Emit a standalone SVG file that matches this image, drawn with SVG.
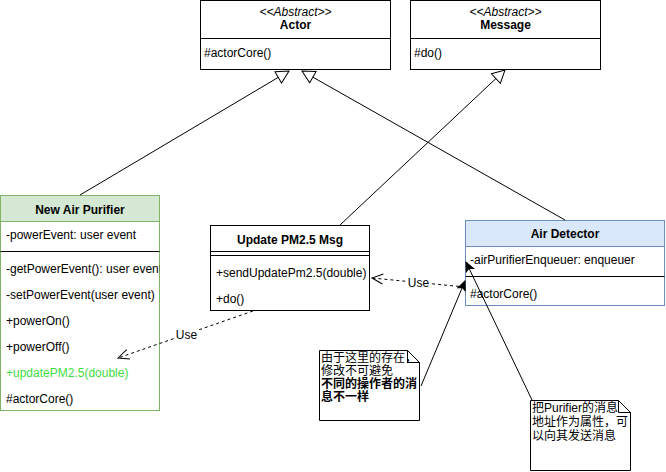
<svg xmlns="http://www.w3.org/2000/svg" width="666" height="472" viewBox="0 0 666 472">
<style>
.box{fill:#fff;stroke:#000}
.t{font-family:"Liberation Sans",Arial,sans-serif;font-size:12px;fill:#000}
.b{font-weight:bold}
.i{font-style:italic}
.c{font-family:"Liberation Sans","Noto Sans CJK SC",sans-serif;font-size:12px;fill:#000}
.edge{stroke:#000;fill:none}
.dash{stroke-dasharray:3 3}
.lbl{fill:#fff}
</style>
<defs>
<marker id="tri" markerUnits="userSpaceOnUse" markerWidth="16" markerHeight="16" viewBox="0 0 16 16" refX="14" refY="8" orient="auto"><path d="M1.5,1.5 L14,8 L1.5,14.5 Z" fill="#fff" stroke="#000"/></marker>
<marker id="open" markerUnits="userSpaceOnUse" markerWidth="14" markerHeight="14" viewBox="0 0 14 14" refX="12" refY="7" orient="auto"><path d="M1,2 L12,7 L1,12" fill="none" stroke="#000"/></marker>
<marker id="cls" markerUnits="userSpaceOnUse" markerWidth="12" markerHeight="10" viewBox="0 0 12 10" refX="10" refY="5" orient="auto"><path d="M1,1 L10,5 L1,9 L3,5 Z" fill="#000" stroke="#000"/></marker>
<clipPath id="clipNAP"><rect x="0" y="195" width="159.5" height="216"/></clipPath>
</defs>

<g id="actor">
<rect class="box" x="200.5" y="0.5" width="190" height="69"/>
<line class="edge" x1="200.5" y1="38.5" x2="390.5" y2="38.5"/>
<text class="t i" x="295.5" y="16" text-anchor="middle">&lt;&lt;Abstract&gt;&gt;</text>
<text class="t b" x="295.5" y="29" text-anchor="middle">Actor</text>
<text class="t" x="204" y="57">#actorCore()</text>
</g>

<g id="message">
<rect class="box" x="410.5" y="0.5" width="190" height="69"/>
<line class="edge" x1="410.5" y1="38.5" x2="600.5" y2="38.5"/>
<text class="t i" x="505.5" y="16" text-anchor="middle">&lt;&lt;Abstract&gt;&gt;</text>
<text class="t b" x="505.5" y="29" text-anchor="middle">Message</text>
<text class="t" x="414" y="57">#do()</text>
</g>

<g id="new-air-purifier">
<rect x="0.5" y="195.5" width="159" height="215" fill="#fff" stroke="#82b366"/>
<rect x="0.5" y="195.5" width="159" height="26" fill="#d5e8d4" stroke="#82b366"/>
<text class="t b" x="80" y="214" text-anchor="middle">New Air Purifier</text>
<text class="t" x="6" y="239">-powerEvent: user event</text>
<line class="edge" x1="0.5" y1="251.5" x2="159.5" y2="251.5"/>
<g clip-path="url(#clipNAP)">
<text class="t" x="6" y="273">-getPowerEvent(): user event</text>
</g>
<text class="t" x="6" y="299">-setPowerEvent(user event)</text>
<text class="t" x="6" y="325">+powerOn()</text>
<text class="t" x="6" y="351">+powerOff()</text>
<text class="t" x="6" y="377" style="fill:#3fdc3f">+updatePM2.5(double)</text>
<text class="t" x="6" y="403">#actorCore()</text>
</g>

<g id="update-pm25-msg">
<rect class="box" x="210.5" y="225.5" width="159" height="85"/>
<line class="edge" x1="210.5" y1="251.5" x2="369.5" y2="251.5"/>
<line class="edge" x1="210.5" y1="255.5" x2="369.5" y2="255.5"/>
<text class="t b" x="290" y="244" text-anchor="middle">Update PM2.5 Msg</text>
<text class="t" x="216" y="277">+sendUpdatePm2.5(double)</text>
<text class="t" x="216" y="303">+do()</text>
</g>

<g id="air-detector">
<rect x="465.5" y="220.5" width="199" height="85" fill="#fff" stroke="#6c8ebf"/>
<rect x="465.5" y="220.5" width="199" height="26" fill="#dae8fc" stroke="#6c8ebf"/>
<text class="t b" x="565" y="238" text-anchor="middle">Air Detector</text>
<text class="t" x="470" y="264">-airPurifierEnqueuer: enqueuer</text>
<line class="edge" x1="465.5" y1="276.5" x2="664.5" y2="276.5"/>
<text class="t" x="470" y="298">#actorCore()</text>
</g>

<g id="note1">
<path class="box" d="M319.5,350.5 H407.5 L419.5,362.5 V420.5 H319.5 Z"/>
<path class="edge" d="M407.5,350.5 V362.5 H419.5"/>
<text class="c" x="321" y="362">由于这里的存在，</text>
<text class="c" x="321" y="375">修改不可避免</text>
<text class="c b" x="321" y="388">不同的操作者的消</text>
<text class="c b" x="321" y="401">息不一样</text>
</g>

<g id="note2">
<path class="box" d="M530.5,400.5 H618.5 L630.5,412.5 V470.5 H530.5 Z"/>
<path class="edge" d="M618.5,400.5 V412.5 H630.5"/>
<text class="c" x="532" y="412">把Purifier的消息</text>
<text class="c" x="532" y="426">地址作为属性，可</text>
<text class="c" x="532" y="440">以向其发送消息</text>
</g>

<g id="connectors">
<path class="edge" d="M80,195 L289,71" marker-end="url(#tri)"/>
<path class="edge" d="M565,220 L302,71" marker-end="url(#tri)"/>
<path class="edge" d="M340,225 L505,70" marker-end="url(#tri)"/>
<path class="edge dash" d="M465,287 L372,278" marker-end="url(#open)"/>
<rect class="lbl" x="407" y="276" width="23" height="14"/>
<text class="t" x="418.5" y="287" text-anchor="middle">Use</text>
<path class="edge dash" d="M253,311 L118,358" marker-end="url(#open)"/>
<rect class="lbl" x="175" y="328" width="23" height="14"/>
<text class="t" x="186.5" y="339" text-anchor="middle">Use</text>
<path class="edge" d="M421,386 L465,281" marker-end="url(#cls)"/>
<path class="edge" d="M532,400 L466,262" marker-end="url(#cls)"/>
</g>
</svg>
